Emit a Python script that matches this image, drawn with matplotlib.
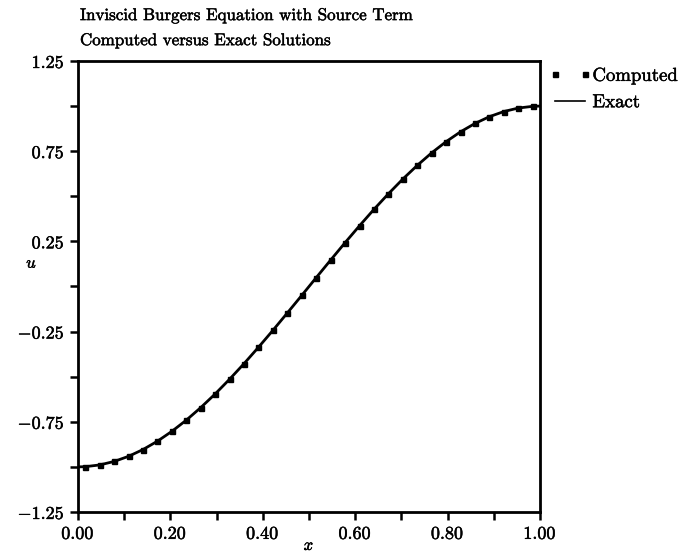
import matplotlib
matplotlib.use("Agg")
import matplotlib.pyplot as plt
import matplotlib.patheffects as pe
from matplotlib.lines import Line2D
from matplotlib.text import Text
from matplotlib.legend_handler import HandlerLine2D
from matplotlib.ticker import FixedLocator, FixedFormatter, MultipleLocator

plt.rcParams['font.family'] = ['cmr10', 'DejaVu Serif']
plt.rcParams['mathtext.fontset'] = 'cm'
plt.rcParams['axes.unicode_minus'] = False

## DATA ##
# computed solution, cell centres
X_COMP = [0.0156, 0.0469, 0.0781, 0.1094, 0.1406, 0.1719, 0.2031, 0.2344,
          0.2656, 0.2969, 0.3281, 0.3594, 0.3906, 0.4219, 0.4531, 0.4844,
          0.5156, 0.5469, 0.5781, 0.6094, 0.6406, 0.6719, 0.7031, 0.7344,
          0.7656, 0.7969, 0.8281, 0.8594, 0.8906, 0.9219, 0.9531, 0.9844]
U_COMP = [-0.9988, -0.9892, -0.9700, -0.9415, -0.9040, -0.8577, -0.8032, -0.7410,
          -0.6716, -0.5957, -0.5141, -0.4276, -0.3369, -0.2430, -0.1467, -0.0491,
          0.0491, 0.1467, 0.2430, 0.3369, 0.4276, 0.5141, 0.5957, 0.6716,
          0.7410, 0.8032, 0.8577, 0.9040, 0.9415, 0.9700, 0.9892, 0.9988]

# exact solution
X_EXACT = [0.0] + X_COMP + [1.0]
U_EXACT = [-1.0] + U_COMP + [1.0]

XTICKS = [0.0, 0.2, 0.4, 0.6, 0.8, 1.0]
XTICK_LABELS = ["0.00", "0.20", "0.40", "0.60", "0.80", "1.00"]
YTICKS = [-1.25, -0.75, -0.25, 0.25, 0.75, 1.25]
YTICK_LABELS = ["-1.25", "-0.75", "-0.25", "0.25", "0.75", "1.25"]

## PLOT ##
fig = plt.figure(figsize=(6.98, 5.57), dpi=100)
ax = fig.add_axes([0.1117, 0.0808, 0.662, 0.8097])

ax.plot(X_EXACT, U_EXACT, color="black", lw=2, zorder=2)
ax.plot(X_COMP, U_COMP, "s", color="black", ms=3.6, zorder=3)

ax.set_xlim(0, 1)
ax.set_ylim(-1.25, 1.25)

ax.xaxis.set_major_locator(FixedLocator(XTICKS))
ax.xaxis.set_major_formatter(FixedFormatter(["$" + s + "$" for s in XTICK_LABELS]))
ax.xaxis.set_minor_locator(MultipleLocator(0.1))
ax.yaxis.set_major_locator(FixedLocator(YTICKS))
ax.yaxis.set_major_formatter(FixedFormatter(["$" + s + "$" for s in YTICK_LABELS]))
ax.yaxis.set_minor_locator(MultipleLocator(0.25))

ax.tick_params(which="both", direction="out", width=1.8, length=6,
               labelsize=13, top=False, right=False)
ax.tick_params(axis="x", pad=4)
for s in ax.spines.values():
    s.set_linewidth(2)

ax.set_xlabel("$x$", fontsize=12, labelpad=-3)
ax.set_ylabel("$u$", fontsize=12, rotation=0)
ax.yaxis.set_label_coords(-0.1, 0.535)

fig.text(0.1146, 0.964, "Inviscid Burgers Equation with Source Term", fontsize=12.2)
fig.text(0.1146, 0.919, "Computed versus Exact Solutions", fontsize=12.2)

handles = [Line2D([], [], ls="none", marker="s", color="black", ms=3.6),
           Line2D([], [], color="black", lw=1.2)]
ax.legend(handles, ["Computed", "Exact"], loc="upper left",
          bbox_to_anchor=(0.795, 0.88), bbox_transform=fig.transFigure,
          frameon=False, numpoints=2, borderpad=0, borderaxespad=0,
          handlelength=1.6, handletextpad=0.4, labelspacing=0.45, fontsize=13.5,
          handler_map={Line2D: HandlerLine2D(marker_pad=0.0, numpoints=2)})

# scanned text looks heavier than plain cmr10
for t in fig.findobj(Text):
    t.set_path_effects([pe.withStroke(linewidth=0.35, foreground="black")])

plt.savefig("out.png", dpi=100)
